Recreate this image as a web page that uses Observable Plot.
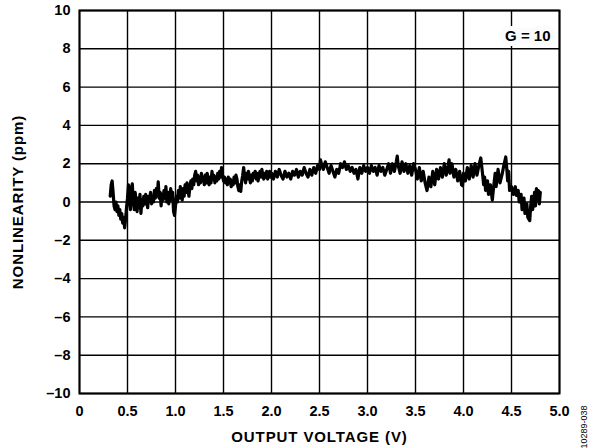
<!DOCTYPE html>
<html>
<head>
<meta charset="utf-8">
<script src="https://cdn.jsdelivr.net/npm/d3@7"></script>
<script src="https://cdn.jsdelivr.net/npm/@observablehq/plot@0.6"></script>
<style>
  html, body { margin: 0; padding: 0; background: #fff; }
  #chart svg { display: block; font-family: "Liberation Sans", Arial, sans-serif; }
</style>
</head>
<body>
<div id="chart"></div>
<script>
// Output voltage (V)
const voltage = [
  0.32,0.33,0.34,0.35,0.36,0.37,0.38,0.39,0.40,0.41,0.42,0.43,0.44,0.45,0.46,0.47,0.48,0.49,
  0.50,0.51,0.52,0.53,0.54,0.55,0.56,0.57,0.58,0.59,0.60,0.61,0.62,0.63,0.64,0.65,0.66,0.67,0.68,0.69,
  0.70,0.71,0.72,0.73,0.74,0.75,0.76,0.77,0.78,0.79,0.80,0.81,0.82,0.83,0.84,0.85,0.86,0.87,0.88,0.89,
  0.90,0.91,0.92,0.93,0.94,0.95,0.96,0.97,0.98,0.99,1.00,1.01,1.02,1.03,1.04,1.05,1.06,1.07,1.08,1.09,
  1.10,1.11,1.12,1.13,1.14,1.15,1.16,1.17,1.18,1.19,1.20,1.21,1.22,1.23,1.24,1.25,1.26,1.27,1.28,1.29,
  1.30,1.31,1.32,1.33,1.34,1.35,1.36,1.37,1.38,1.39,1.40,1.41,1.42,1.43,1.44,1.45,1.46,1.47,1.48,1.49,
  1.50,1.51,1.52,1.53,1.54,1.55,1.56,1.57,1.58,1.59,1.60,1.61,1.62,1.63,1.64,1.65,1.66,1.67,1.68,1.69,
  1.70,1.71,1.72,1.73,1.74,1.75,1.76,1.77,1.78,1.79,1.80,1.81,1.82,1.83,1.84,1.85,1.86,1.87,1.88,1.89,
  1.90,1.91,1.92,1.93,1.94,1.95,1.96,1.97,1.98,1.99,
  2.00,2.02,2.04,2.06,2.08,2.10,2.12,2.14,2.16,2.18,2.20,2.22,2.24,2.26,2.28,2.30,2.32,2.34,2.36,2.38,
  2.40,2.42,2.44,2.46,2.48,2.50,2.51,2.52,2.54,2.56,2.58,2.60,2.62,2.64,2.66,2.68,2.70,2.72,2.74,2.76,
  2.78,2.80,2.82,2.84,2.86,2.88,2.90,2.92,2.94,2.96,2.98,
  3.00,3.02,3.04,3.06,3.08,3.10,3.12,3.14,3.16,3.18,3.20,3.22,3.24,3.26,3.28,3.30,3.31,3.32,3.34,3.36,
  3.38,3.40,3.42,3.44,3.46,3.48,3.50,3.52,3.54,3.56,3.58,3.60,3.62,3.64,3.66,3.68,3.70,3.72,3.74,3.76,
  3.78,3.80,3.82,3.84,3.85,3.86,3.88,3.90,3.92,3.94,3.96,3.98,3.99,4.00,4.02,4.04,4.06,4.08,4.10,4.12,
  4.14,4.16,4.18,4.20,4.21,4.22,4.23,4.25,4.26,4.28,4.30,4.31,4.33,4.34,4.36,4.38,4.40,4.42,4.44,4.45,
  4.46,4.47,4.48,4.50,4.52,4.54,4.55,4.57,4.58,4.60,4.61,4.63,4.64,4.66,4.67,4.69,4.70,4.71,4.72,4.74,
  4.75,4.76,4.77,4.78,4.79,4.80
];
// Nonlinearity (ppm)
const nonlinearity = [
  0.3,0.9,1.1,0.5,-0.2,-0.4,0.0,-0.5,-0.2,-0.7,-0.4,-0.9,-0.6,-1.1,-0.8,-1.35,-0.9,-0.3,
  0.2,0.9,0.2,-0.4,0.7,0.95,0.1,-0.4,0.5,0.0,-0.5,0.2,-0.3,0.4,-0.6,0.1,-0.2,0.3,-0.1,0.4,
  0.0,-0.3,0.3,0.1,0.5,-0.1,0.3,0.0,0.6,0.2,0.7,0.3,1.05,0.2,0.5,-0.2,0.4,0.1,0.6,0.2,
  0.8,0.0,0.5,-0.1,0.3,0.7,0.1,0.5,-0.5,-0.7,-0.2,0.3,0.0,0.6,0.2,0.8,0.4,0.1,0.7,0.3,
  0.9,0.5,1.0,0.6,0.3,0.8,1.1,0.7,1.2,0.9,1.4,1.6,1.1,1.4,0.9,1.3,1.0,1.5,1.1,1.3,
  0.9,1.4,1.0,1.5,1.2,0.9,1.3,1.0,1.6,1.2,1.4,1.0,1.3,1.1,1.5,1.2,1.6,1.3,1.8,1.4,
  1.1,1.3,1.0,1.2,0.9,1.3,1.0,1.2,0.8,1.1,0.9,1.3,1.0,1.4,1.2,0.8,0.6,0.9,0.55,1.1,
  1.4,1.8,1.3,1.0,1.5,1.2,1.6,1.3,1.0,1.4,1.1,1.5,1.3,1.6,1.2,1.5,1.1,1.4,1.6,1.3,
  1.7,1.4,1.2,1.5,1.3,1.6,1.2,1.4,1.6,1.3,
  1.5,1.2,1.6,1.3,1.7,1.4,1.2,1.6,1.3,1.5,1.2,1.6,1.4,1.7,1.3,1.6,1.4,1.8,1.5,1.3,
  1.7,1.4,1.8,1.5,1.9,1.7,2.2,2.0,1.7,2.1,1.8,1.5,1.9,1.6,1.3,1.7,1.5,2.0,1.8,2.1,
  1.7,1.9,1.6,1.8,1.5,1.7,1.2,1.8,1.5,1.9,1.6,
  1.8,1.5,1.9,1.6,1.8,1.4,1.9,1.6,1.8,1.4,1.7,2.0,1.5,2.0,1.6,2.1,2.4,1.9,1.5,2.1,
  1.6,2.0,1.5,1.9,1.4,2.0,1.7,1.2,1.8,1.1,1.6,1.0,0.6,1.3,0.8,1.6,0.9,1.7,1.2,1.8,
  1.3,2.0,1.4,1.9,2.2,1.5,2.0,1.3,1.7,1.1,1.6,0.9,0.85,1.5,1.1,1.8,1.2,1.9,1.3,2.0,
  1.4,1.9,2.3,1.4,0.9,1.3,0.6,1.1,0.4,0.9,0.1,0.6,1.5,0.8,1.7,1.0,1.4,1.9,2.35,1.8,
  1.1,1.6,0.6,0.8,0.4,0.8,0.35,0.6,0.0,0.4,-0.4,0.2,-0.6,-0.1,-0.8,-0.97,-0.2,0.3,-0.4,0.5,
  -0.2,0.7,0.1,0.6,-0.1,0.5
];
const xTicks = [0, 0.5, 1.0, 1.5, 2.0, 2.5, 3.0, 3.5, 4.0, 4.5, 5.0];
const yTicks = [-10, -8, -6, -4, -2, 0, 2, 4, 6, 8, 10];
const gainLabel = "G = 10";
const figureId = "10289-038";

const data = voltage.map((v, i) => ({v, n: nonlinearity[i]}));
const fmtY = d => d < 0 ? "\u2013" + (-d) : String(d);
const fmtX = d => d === 0 ? "0" : d.toFixed(1);

const chart = Plot.plot({
  width: 599,
  height: 448,
  marginLeft: 79,
  marginRight: 40,
  marginTop: 10,
  marginBottom: 55,
  style: {fontFamily: "'Liberation Sans', Arial, sans-serif", fontSize: "14px", fontWeight: "bold", color: "#000", background: "#fff"},
  x: {domain: [0, 5], ticks: xTicks, tickFormat: fmtX, label: null},
  y: {domain: [-10, 10], ticks: yTicks, tickFormat: fmtY, label: null},
  marks: [
    Plot.gridX(xTicks, {stroke: "#000", strokeOpacity: 1, strokeWidth: 1.4}),
    Plot.gridY(yTicks, {stroke: "#000", strokeOpacity: 1, strokeWidth: 1.4}),
    Plot.axisX(xTicks, {tickSize: 0, tickPadding: 12, tickFormat: fmtX, fontSize: 14.5, fontWeight: "bold",
      label: "OUTPUT VOLTAGE (V)", labelAnchor: "center", labelArrow: "none", labelOffset: 48}),
    Plot.axisY(yTicks, {tickSize: 0, tickPadding: 9, tickFormat: fmtY, fontSize: 14.5, fontWeight: "bold",
      label: "NONLINEARITY (ppm)", labelAnchor: "center", labelArrow: "none", labelOffset: 67}),
    Plot.line(data, {x: "v", y: "n", stroke: "#000", strokeWidth: 3.2, strokeLinejoin: "round"}),
    Plot.frame({stroke: "#000", strokeWidth: 2}),
    Plot.text([gainLabel], {frameAnchor: "top-right", dx: -9, dy: 20, text: d => d, fontSize: 15, fontWeight: "bold",
      fill: "#000", stroke: "#fafbfd", strokeWidth: 10, paintOrder: "stroke", textAnchor: "end"}),
    Plot.text([figureId], {frameAnchor: "bottom-right", dx: 27, dy: 55, text: d => d, rotate: -90, textAnchor: "start",
      fontSize: 9, fontWeight: "normal", fill: "#000"})
  ]
});
document.getElementById("chart").appendChild(chart);
// Axis titles: slightly larger and wider-set, as in the reference
chart.querySelectorAll("g[aria-label='x-axis label'] text, g[aria-label='y-axis label'] text").forEach(t => {
  t.setAttribute("font-size", "15");
  t.setAttribute("letter-spacing", "0.9");
});
</script>
</body>
</html>
